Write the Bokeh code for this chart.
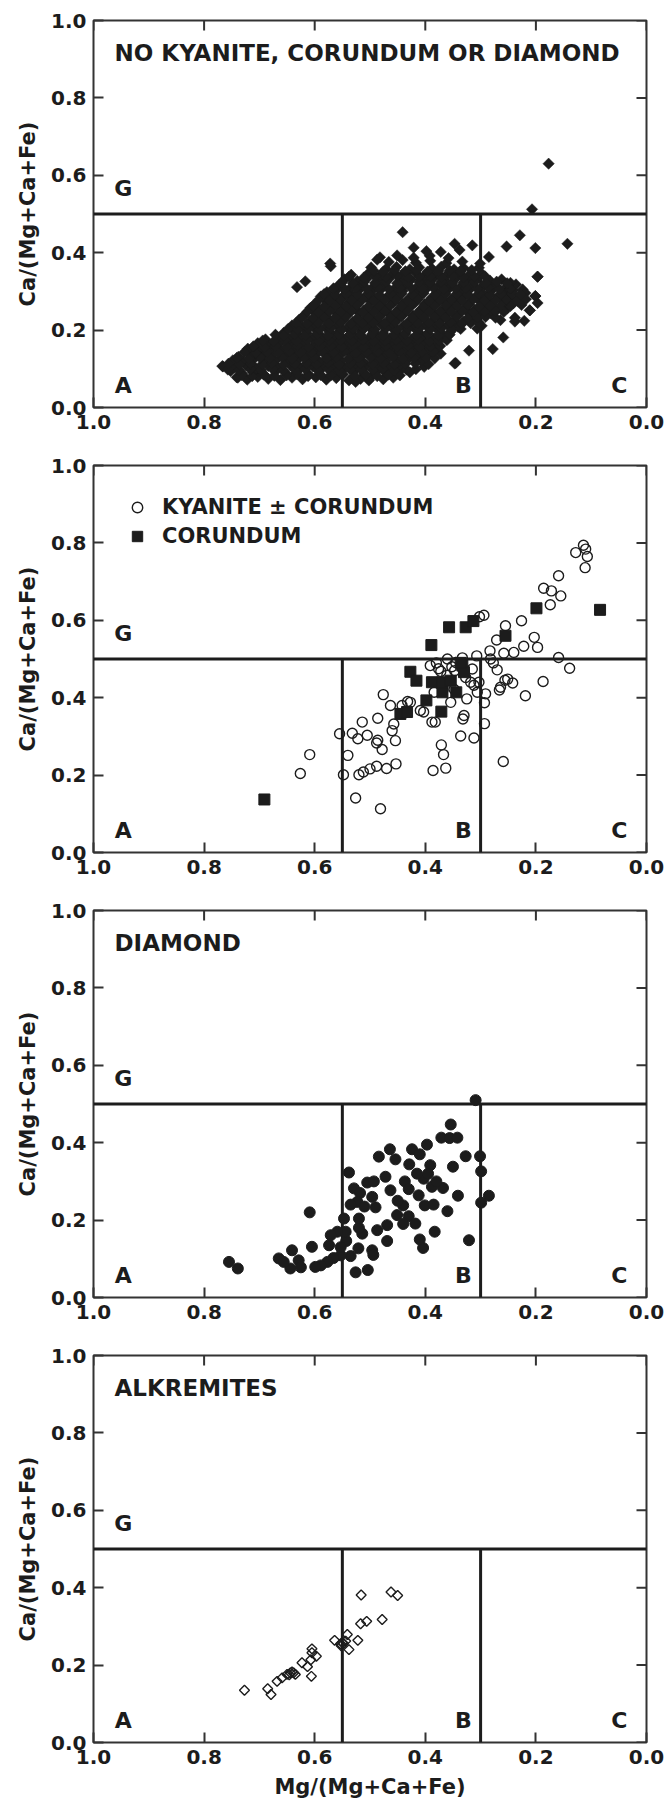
import math
from bokeh.plotting import figure
from bokeh.layouts import column
from bokeh.models import (Range1d, FixedTicker, Legend, LegendItem,
                          Span, PrintfTickFormatter)
from bokeh.core.properties import value
from bokeh.embed import file_html
from bokeh.resources import INLINE

# ---------------- data ----------------
tick_values = [0.0, 0.2, 0.4, 0.6, 0.8, 1.0]
tick_labels = ["0.0", "0.2", "0.4", "0.6", "0.8", "1.0"]

g_boundary = 0.5          # Ca/(Mg+Ca+Fe) boundary of group G
ab_boundary = 0.55        # Mg/(Mg+Ca+Fe) boundary A | B
bc_boundary = 0.30        # Mg/(Mg+Ca+Fe) boundary B | C

region_names = ["A", "B", "C", "G"]
region_mg = [0.946, 0.331, 0.049, 0.946]
region_ca = [0.056, 0.056, 0.056, 0.566]

panel_titles = ["NO KYANITE, CORUNDUM OR DIAMOND", None, "DIAMOND", "ALKREMITES"]
x_title = "Mg/(Mg+Ca+Fe)"
y_title = "Ca/(Mg+Ca+Fe)"
legend_labels = ["KYANITE \u00b1 CORUNDUM", "CORUNDUM"]

# Panel 1: no kyanite, corundum or diamond (filled diamonds)
p1_mg = [
    0.741, 0.722, 0.703, 0.684, 0.662, 0.641, 0.622, 0.598, 0.579, 0.561, 0.538, 0.517, 0.498, 0.476, 0.458,
    0.752, 0.731, 0.712, 0.693, 0.671, 0.652, 0.633, 0.611, 0.592, 0.569, 0.551, 0.529, 0.511, 0.489, 0.471, 0.449, 0.428,
    0.766, 0.746, 0.724, 0.706, 0.684, 0.667, 0.644, 0.626, 0.603, 0.586, 0.564, 0.546, 0.523, 0.506, 0.484, 0.466, 0.441, 0.402, 0.347,
    0.748, 0.729, 0.711, 0.688, 0.671, 0.648, 0.631, 0.609, 0.591, 0.568, 0.552, 0.529, 0.512, 0.488, 0.471, 0.449, 0.432, 0.408, 0.372,
    0.738, 0.716, 0.694, 0.676, 0.654, 0.636, 0.613, 0.596, 0.574, 0.556, 0.533, 0.516, 0.494, 0.476, 0.453, 0.436, 0.414, 0.396, 0.321,
    0.721, 0.701, 0.679, 0.661, 0.639, 0.621, 0.598, 0.581, 0.559, 0.541, 0.518, 0.501, 0.479, 0.461, 0.438, 0.421, 0.398, 0.381, 0.345, 0.278,
    0.703, 0.682, 0.663, 0.641, 0.622, 0.601, 0.583, 0.561, 0.542, 0.521, 0.503, 0.481, 0.462, 0.442, 0.423, 0.401, 0.384,
    0.689, 0.667, 0.646, 0.626, 0.604, 0.586, 0.566, 0.544, 0.526, 0.504, 0.486, 0.464, 0.446, 0.424, 0.406, 0.384, 0.366, 0.259,
    0.656, 0.637, 0.614, 0.596, 0.573, 0.556, 0.533, 0.516, 0.493, 0.476, 0.453, 0.436, 0.413, 0.396, 0.374, 0.356,
    0.641, 0.622, 0.601, 0.581, 0.559, 0.541, 0.519, 0.502, 0.479, 0.461, 0.439, 0.421, 0.399, 0.381, 0.359, 0.341, 0.298, 0.238,
    0.628, 0.609, 0.588, 0.571, 0.548, 0.531, 0.508, 0.491, 0.468, 0.451, 0.428, 0.411, 0.388, 0.371, 0.348, 0.331, 0.309, 0.264, 0.221,
    0.619, 0.598, 0.581, 0.559, 0.542, 0.519, 0.502, 0.479, 0.462, 0.439, 0.422, 0.399, 0.382, 0.359, 0.342, 0.319, 0.302, 0.281,
    0.608, 0.591, 0.568, 0.551, 0.528, 0.511, 0.488, 0.471, 0.448, 0.431, 0.408, 0.391, 0.368, 0.351, 0.328, 0.311, 0.288, 0.271, 0.252, 0.211,
    0.599, 0.578, 0.561, 0.538, 0.521, 0.498, 0.481, 0.458, 0.441, 0.418, 0.401, 0.378, 0.361, 0.338, 0.321, 0.298, 0.281, 0.258, 0.241, 0.197,
    0.589, 0.571, 0.548, 0.531, 0.508, 0.491, 0.468, 0.451, 0.428, 0.411, 0.388, 0.371, 0.348, 0.331, 0.308, 0.291, 0.268, 0.251, 0.228, 0.201,
    0.578, 0.561, 0.538, 0.521, 0.498, 0.481, 0.458, 0.441, 0.418, 0.401, 0.378, 0.361, 0.338, 0.321, 0.298, 0.281, 0.258, 0.241,
    0.632, 0.556, 0.533, 0.516, 0.493, 0.476, 0.453, 0.436, 0.413, 0.396, 0.373, 0.356, 0.333, 0.316, 0.293, 0.276, 0.253, 0.236,
    0.617, 0.546, 0.523, 0.506, 0.483, 0.466, 0.443, 0.426, 0.403, 0.386, 0.363, 0.346, 0.323, 0.306, 0.283, 0.262, 0.197,
    0.534, 0.502, 0.481, 0.458, 0.441, 0.418, 0.401, 0.378, 0.361, 0.338, 0.321, 0.298,
    0.571, 0.498, 0.471, 0.452, 0.428, 0.411, 0.388, 0.371, 0.348, 0.331, 0.303,
    0.572, 0.487, 0.466, 0.441, 0.417, 0.391, 0.362, 0.333, 0.301,
    0.482, 0.451, 0.421, 0.392, 0.358, 0.285,
    0.421, 0.398, 0.372, 0.338,
    0.441, 0.229, 0.207, 0.177, 0.143, 0.253, 0.201, 0.315, 0.347, 0.197, 0.201, 0.211, 0.238, 0.767, 0.739, 0.526, 0.502,
    0.224, 0.219, 0.246, 0.232,
    0.732, 0.713, 0.692, 0.673, 0.651, 0.632, 0.612, 0.589, 0.571, 0.549, 0.528, 0.507, 0.487, 0.467, 0.446,
    0.757, 0.737, 0.716, 0.697, 0.676, 0.657, 0.636, 0.617, 0.595, 0.576, 0.556, 0.536, 0.516, 0.495, 0.477, 0.456, 0.434, 0.417,
    0.756, 0.736, 0.716, 0.695, 0.677, 0.656, 0.636, 0.615, 0.597, 0.576, 0.556, 0.536, 0.517, 0.496, 0.476, 0.456, 0.436, 0.418, 0.394,
    0.741, 0.719, 0.699, 0.681, 0.659, 0.641, 0.619, 0.601, 0.579, 0.561, 0.539, 0.521, 0.499, 0.481, 0.459, 0.441, 0.421, 0.399, 0.383,
    0.727, 0.706, 0.686, 0.666, 0.646, 0.626, 0.606, 0.586, 0.566, 0.546, 0.526, 0.506, 0.486, 0.466, 0.446, 0.426, 0.406, 0.386,
    0.711, 0.691, 0.671, 0.651, 0.631, 0.611, 0.591, 0.571, 0.551, 0.531, 0.511, 0.491, 0.471, 0.451, 0.431, 0.411, 0.391, 0.373,
    0.694, 0.674, 0.654, 0.633, 0.613, 0.593, 0.573, 0.553, 0.533, 0.513, 0.493, 0.473, 0.453, 0.433, 0.413, 0.393, 0.375, 0.361,
    0.671, 0.656, 0.636, 0.616, 0.596, 0.576, 0.556, 0.536, 0.516, 0.496, 0.476, 0.456, 0.436, 0.416, 0.396, 0.376, 0.356,
    0.648, 0.631, 0.611, 0.591, 0.571, 0.551, 0.531, 0.511, 0.491, 0.471, 0.451, 0.431, 0.411, 0.391, 0.371, 0.351, 0.336, 0.306,
    0.634, 0.614, 0.594, 0.574, 0.554, 0.534, 0.514, 0.494, 0.474, 0.454, 0.434, 0.414, 0.394, 0.374, 0.354, 0.334, 0.318, 0.303,
    0.623, 0.603, 0.583, 0.563, 0.543, 0.523, 0.503, 0.483, 0.463, 0.443, 0.423, 0.403, 0.383, 0.363, 0.343, 0.323, 0.306, 0.291, 0.273,
    0.613, 0.593, 0.573, 0.553, 0.533, 0.513, 0.493, 0.473, 0.453, 0.433, 0.413, 0.393, 0.373, 0.353, 0.333, 0.313, 0.293, 0.273, 0.258,
    0.603, 0.583, 0.563, 0.543, 0.523, 0.503, 0.483, 0.463, 0.443, 0.423, 0.403, 0.383, 0.363, 0.343, 0.323, 0.303, 0.283, 0.263, 0.246, 0.226,
    0.593, 0.573, 0.553, 0.533, 0.513, 0.493, 0.473, 0.453, 0.433, 0.413, 0.393, 0.373, 0.353, 0.333, 0.313, 0.293, 0.273, 0.253, 0.236, 0.218,
    0.583, 0.563, 0.543, 0.523, 0.503, 0.483, 0.463, 0.443, 0.423, 0.403, 0.383, 0.363, 0.343, 0.323, 0.303, 0.283, 0.263, 0.243, 0.228,
    0.566, 0.546, 0.526, 0.506, 0.486, 0.466, 0.446, 0.426, 0.406, 0.386, 0.366, 0.346, 0.326, 0.306, 0.286, 0.266, 0.246,
    0.551, 0.531, 0.511, 0.491, 0.471, 0.451, 0.431, 0.411, 0.391, 0.371, 0.351, 0.331, 0.311, 0.291, 0.271, 0.252,
    0.538, 0.511, 0.491, 0.471, 0.451, 0.431, 0.411, 0.391, 0.371, 0.351, 0.331, 0.311, 0.292,
    0.493, 0.476, 0.456, 0.436, 0.416, 0.396, 0.376, 0.356, 0.336, 0.316,
]
p1_ca = [
    0.078, 0.072, 0.079, 0.074, 0.071, 0.077, 0.073, 0.078, 0.072, 0.076, 0.070, 0.074, 0.079, 0.073, 0.077,
    0.094, 0.088, 0.092, 0.087, 0.093, 0.089, 0.091, 0.086, 0.094, 0.090, 0.087, 0.093, 0.088, 0.092, 0.089, 0.094, 0.091,
    0.106, 0.103, 0.108, 0.101, 0.107, 0.104, 0.109, 0.102, 0.106, 0.104, 0.108, 0.101, 0.105, 0.109, 0.103, 0.107, 0.102, 0.105, 0.114,
    0.122, 0.118, 0.124, 0.119, 0.121, 0.117, 0.123, 0.120, 0.118, 0.124, 0.119, 0.122, 0.117, 0.123, 0.120, 0.118, 0.124, 0.121, 0.139,
    0.131, 0.137, 0.133, 0.138, 0.132, 0.136, 0.134, 0.139, 0.131, 0.135, 0.138, 0.132, 0.136, 0.133, 0.139, 0.134, 0.137, 0.132, 0.147,
    0.152, 0.148, 0.153, 0.147, 0.151, 0.149, 0.154, 0.146, 0.152, 0.148, 0.153, 0.147, 0.150, 0.154, 0.148, 0.152, 0.146, 0.151, 0.115, 0.151,
    0.166, 0.162, 0.168, 0.163, 0.167, 0.161, 0.166, 0.169, 0.162, 0.167, 0.163, 0.168, 0.161, 0.166, 0.164, 0.168, 0.163,
    0.176, 0.182, 0.178, 0.183, 0.177, 0.181, 0.184, 0.178, 0.182, 0.176, 0.183, 0.179, 0.181, 0.177, 0.184, 0.179, 0.182, 0.181,
    0.193, 0.197, 0.192, 0.198, 0.194, 0.196, 0.191, 0.197, 0.195, 0.192, 0.198, 0.193, 0.196, 0.191, 0.197, 0.194,
    0.212, 0.207, 0.213, 0.208, 0.211, 0.206, 0.212, 0.209, 0.214, 0.207, 0.211, 0.208, 0.213, 0.206, 0.212, 0.209, 0.211, 0.222,
    0.227, 0.222, 0.228, 0.223, 0.226, 0.221, 0.227, 0.224, 0.222, 0.228, 0.223, 0.226, 0.221, 0.227, 0.224, 0.222, 0.228, 0.226, 0.224,
    0.238, 0.243, 0.237, 0.242, 0.239, 0.244, 0.236, 0.241, 0.238, 0.243, 0.237, 0.242, 0.239, 0.244, 0.237, 0.241, 0.238, 0.243,
    0.257, 0.252, 0.258, 0.253, 0.256, 0.251, 0.257, 0.254, 0.252, 0.258, 0.253, 0.256, 0.251, 0.257, 0.254, 0.252, 0.258, 0.253, 0.256, 0.251,
    0.268, 0.273, 0.267, 0.272, 0.269, 0.274, 0.266, 0.271, 0.268, 0.273, 0.267, 0.272, 0.269, 0.274, 0.267, 0.271, 0.268, 0.273, 0.269, 0.270,
    0.287, 0.282, 0.288, 0.283, 0.286, 0.281, 0.287, 0.284, 0.282, 0.288, 0.283, 0.286, 0.281, 0.287, 0.284, 0.282, 0.288, 0.283, 0.286, 0.288,
    0.298, 0.303, 0.297, 0.302, 0.299, 0.304, 0.296, 0.301, 0.298, 0.303, 0.297, 0.302, 0.299, 0.304, 0.297, 0.301, 0.298, 0.303,
    0.311, 0.317, 0.312, 0.318, 0.313, 0.316, 0.311, 0.317, 0.314, 0.312, 0.318, 0.313, 0.316, 0.311, 0.317, 0.314, 0.312, 0.318,
    0.326, 0.331, 0.327, 0.333, 0.328, 0.332, 0.326, 0.331, 0.328, 0.333, 0.327, 0.332, 0.329, 0.334, 0.328, 0.331, 0.338,
    0.343, 0.348, 0.342, 0.347, 0.344, 0.349, 0.342, 0.346, 0.343, 0.348, 0.342, 0.346,
    0.365, 0.362, 0.358, 0.363, 0.357, 0.362, 0.359, 0.364, 0.357, 0.361, 0.361,
    0.372, 0.382, 0.376, 0.381, 0.374, 0.379, 0.373, 0.377, 0.372,
    0.388, 0.393, 0.387, 0.392, 0.386, 0.389,
    0.413, 0.404, 0.402, 0.407,
    0.453, 0.445, 0.512, 0.630, 0.423, 0.416, 0.412, 0.419, 0.423, 0.338, 0.288, 0.251, 0.232, 0.107, 0.077, 0.066, 0.070,
    0.305, 0.296, 0.322, 0.274,
    0.084, 0.081, 0.085, 0.082, 0.083, 0.086, 0.081, 0.084, 0.083, 0.085, 0.082, 0.084, 0.081, 0.085, 0.083,
    0.098, 0.096, 0.099, 0.097, 0.100, 0.096, 0.098, 0.099, 0.097, 0.100, 0.096, 0.098, 0.099, 0.097, 0.100, 0.096, 0.098, 0.099,
    0.113, 0.111, 0.114, 0.112, 0.115, 0.111, 0.113, 0.114, 0.112, 0.115, 0.111, 0.113, 0.114, 0.112, 0.115, 0.111, 0.113, 0.114, 0.112,
    0.128, 0.126, 0.129, 0.127, 0.130, 0.126, 0.128, 0.129, 0.127, 0.130, 0.126, 0.128, 0.129, 0.127, 0.130, 0.126, 0.128, 0.129, 0.127,
    0.143, 0.141, 0.144, 0.142, 0.145, 0.141, 0.143, 0.144, 0.142, 0.145, 0.141, 0.143, 0.144, 0.142, 0.145, 0.141, 0.143, 0.144,
    0.158, 0.156, 0.159, 0.157, 0.160, 0.156, 0.158, 0.159, 0.157, 0.160, 0.156, 0.158, 0.159, 0.157, 0.160, 0.156, 0.158, 0.159,
    0.173, 0.171, 0.174, 0.172, 0.175, 0.171, 0.173, 0.174, 0.172, 0.175, 0.171, 0.173, 0.174, 0.172, 0.175, 0.171, 0.173, 0.174,
    0.188, 0.186, 0.189, 0.187, 0.190, 0.186, 0.188, 0.189, 0.187, 0.190, 0.186, 0.188, 0.189, 0.187, 0.190, 0.186, 0.188,
    0.203, 0.201, 0.204, 0.202, 0.205, 0.201, 0.203, 0.204, 0.202, 0.205, 0.201, 0.203, 0.204, 0.202, 0.205, 0.201, 0.203, 0.204,
    0.218, 0.216, 0.219, 0.217, 0.220, 0.216, 0.218, 0.219, 0.217, 0.220, 0.216, 0.218, 0.219, 0.217, 0.220, 0.216, 0.218, 0.219,
    0.233, 0.231, 0.234, 0.232, 0.235, 0.231, 0.233, 0.234, 0.232, 0.235, 0.231, 0.233, 0.234, 0.232, 0.235, 0.231, 0.233, 0.234, 0.232,
    0.248, 0.246, 0.249, 0.247, 0.250, 0.246, 0.248, 0.249, 0.247, 0.250, 0.246, 0.248, 0.249, 0.247, 0.250, 0.246, 0.248, 0.249, 0.247,
    0.263, 0.261, 0.264, 0.262, 0.265, 0.261, 0.263, 0.264, 0.262, 0.265, 0.261, 0.263, 0.264, 0.262, 0.265, 0.261, 0.263, 0.264, 0.262, 0.265,
    0.278, 0.276, 0.279, 0.277, 0.280, 0.276, 0.278, 0.279, 0.277, 0.280, 0.276, 0.278, 0.279, 0.277, 0.280, 0.276, 0.278, 0.279, 0.277, 0.280,
    0.293, 0.291, 0.294, 0.292, 0.295, 0.291, 0.293, 0.294, 0.292, 0.295, 0.291, 0.293, 0.294, 0.292, 0.295, 0.291, 0.293, 0.294, 0.292,
    0.308, 0.306, 0.309, 0.307, 0.310, 0.306, 0.308, 0.309, 0.307, 0.310, 0.306, 0.308, 0.309, 0.307, 0.310, 0.306, 0.308,
    0.323, 0.321, 0.324, 0.322, 0.325, 0.321, 0.323, 0.324, 0.322, 0.325, 0.321, 0.323, 0.324, 0.322, 0.325, 0.321,
    0.338, 0.336, 0.339, 0.337, 0.340, 0.336, 0.338, 0.339, 0.337, 0.340, 0.336, 0.338, 0.339,
    0.353, 0.351, 0.354, 0.352, 0.355, 0.351, 0.353, 0.354, 0.352, 0.355,
]

# Panel 2: kyanite +/- corundum (open circles) and corundum (filled squares)
kya_mg = [0.626, 0.609, 0.555, 0.540, 0.548, 0.526, 0.481, 0.532, 0.522, 0.505,
          0.514, 0.488, 0.478, 0.486, 0.486, 0.476, 0.463, 0.457, 0.460, 0.454,
          0.442, 0.427, 0.409, 0.403, 0.520, 0.512, 0.500, 0.488, 0.470, 0.453,
          0.386, 0.363, 0.371, 0.367, 0.382, 0.336, 0.312, 0.330, 0.332, 0.293,
          0.293, 0.291, 0.306, 0.325, 0.354, 0.391, 0.376, 0.360, 0.345, 0.315,
          0.307, 0.318, 0.303, 0.283, 0.282, 0.277, 0.270, 0.264, 0.251, 0.242,
          0.219, 0.187, 0.159, 0.139, 0.258, 0.240, 0.222, 0.203, 0.197, 0.271,
          0.255, 0.226, 0.294, 0.302, 0.186, 0.172, 0.155, 0.174, 0.159, 0.111,
          0.128, 0.114, 0.110, 0.107, 0.259, 0.388, 0.372, 0.361, 0.347, 0.327,
          0.312, 0.348, 0.368, 0.384, 0.380, 0.352, 0.333, 0.266, 0.256, 0.432]
kya_ca = [0.204, 0.253, 0.307, 0.251, 0.201, 0.141, 0.113, 0.308, 0.294, 0.303,
          0.337, 0.283, 0.266, 0.290, 0.347, 0.408, 0.380, 0.332, 0.315, 0.289,
          0.380, 0.388, 0.367, 0.363, 0.201, 0.208, 0.216, 0.223, 0.217, 0.229,
          0.212, 0.218, 0.278, 0.253, 0.337, 0.301, 0.296, 0.354, 0.345, 0.333,
          0.387, 0.410, 0.414, 0.397, 0.388, 0.483, 0.475, 0.500, 0.491, 0.474,
          0.508, 0.440, 0.440, 0.521, 0.500, 0.490, 0.472, 0.427, 0.448, 0.438,
          0.405, 0.442, 0.504, 0.476, 0.515, 0.517, 0.533, 0.556, 0.530, 0.549,
          0.586, 0.599, 0.613, 0.609, 0.683, 0.676, 0.663, 0.640, 0.715, 0.736,
          0.775, 0.794, 0.784, 0.765, 0.235, 0.337, 0.468, 0.458, 0.470, 0.452,
          0.432, 0.422, 0.420, 0.414, 0.490, 0.480, 0.503, 0.420, 0.445, 0.390]
cor_mg = [0.691, 0.389, 0.357, 0.327, 0.313, 0.199, 0.084, 0.255, 0.427, 0.416, 0.398,
          0.445, 0.433, 0.371, 0.388, 0.369, 0.369, 0.354, 0.344, 0.333, 0.330, 0.336]
cor_ca = [0.137, 0.536, 0.582, 0.582, 0.598, 0.631, 0.627, 0.560, 0.467, 0.444, 0.393,
          0.358, 0.363, 0.364, 0.440, 0.414, 0.440, 0.444, 0.414, 0.483, 0.466, 0.490]

# Panel 3: diamond (filled circles)
dia_mg = [0.309, 0.354, 0.371, 0.356, 0.342, 0.397, 0.424, 0.464, 0.484, 0.454,
          0.410, 0.429, 0.391, 0.350, 0.327, 0.301, 0.299, 0.285, 0.299, 0.341,
          0.321, 0.360, 0.383, 0.404, 0.410, 0.401, 0.385, 0.388, 0.412, 0.403,
          0.415, 0.368, 0.440, 0.451, 0.430, 0.418, 0.469, 0.469, 0.487, 0.496,
          0.494, 0.504, 0.526, 0.521, 0.535, 0.543, 0.514, 0.520, 0.538, 0.529,
          0.518, 0.505, 0.493, 0.472, 0.463, 0.496, 0.523, 0.535, 0.510, 0.490,
          0.520, 0.547, 0.544, 0.559, 0.571, 0.553, 0.566, 0.574, 0.577, 0.589,
          0.599, 0.605, 0.609, 0.629, 0.641, 0.644, 0.625, 0.665, 0.656, 0.739,
          0.755, 0.553, 0.440, 0.437, 0.380, 0.395, 0.430, 0.450]
dia_ca = [0.510, 0.447, 0.413, 0.412, 0.413, 0.395, 0.383, 0.383, 0.364, 0.357,
          0.370, 0.344, 0.342, 0.338, 0.365, 0.365, 0.326, 0.263, 0.245, 0.263,
          0.148, 0.223, 0.170, 0.128, 0.150, 0.238, 0.240, 0.286, 0.264, 0.307,
          0.320, 0.283, 0.238, 0.213, 0.210, 0.191, 0.187, 0.146, 0.174, 0.122,
          0.110, 0.071, 0.065, 0.127, 0.107, 0.146, 0.165, 0.180, 0.323, 0.282,
          0.270, 0.297, 0.300, 0.312, 0.277, 0.260, 0.247, 0.240, 0.235, 0.233,
          0.204, 0.204, 0.170, 0.170, 0.161, 0.109, 0.102, 0.135, 0.092, 0.083,
          0.079, 0.131, 0.220, 0.096, 0.122, 0.075, 0.078, 0.101, 0.092, 0.075,
          0.092, 0.130, 0.190, 0.300, 0.300, 0.320, 0.280, 0.250]

# Panel 4: alkremites (open diamonds)
alk_mg = [0.727, 0.685, 0.679, 0.668, 0.659, 0.650, 0.644, 0.638, 0.623, 0.613,
          0.606, 0.605, 0.605, 0.597, 0.607, 0.564, 0.550, 0.544, 0.541, 0.538,
          0.522, 0.517, 0.506, 0.516, 0.478, 0.462, 0.450, 0.646, 0.641, 0.553,
          0.552, 0.548, 0.635]
alk_ca = [0.135, 0.139, 0.124, 0.158, 0.167, 0.176, 0.180, 0.180, 0.206, 0.196,
          0.171, 0.242, 0.232, 0.223, 0.214, 0.264, 0.258, 0.262, 0.279, 0.240,
          0.264, 0.307, 0.313, 0.381, 0.318, 0.389, 0.380, 0.175, 0.182, 0.255,
          0.250, 0.256, 0.176]

# ---------------- style ----------------
FONT = "DejaVu Sans"
INK = "#1c1c1c"
FRAME = "#333333"
ROT = math.pi / 4


def style_axis(ax):
    ax.ticker = FixedTicker(ticks=tick_values)
    ax.formatter = PrintfTickFormatter(format="%.1f")
    ax.major_label_overrides = dict(zip(tick_values, tick_labels))
    ax.major_tick_in = 10
    ax.major_tick_out = 0
    ax.minor_tick_line_color = None
    ax.axis_line_color = None
    ax.major_tick_line_color = FRAME
    ax.major_tick_line_width = 2
    ax.major_label_text_font = FONT
    ax.major_label_text_font_style = "bold"
    ax.major_label_text_color = INK
    ax.major_label_text_font_size = "20px"
    ax.major_label_standoff = 7
    ax.axis_label_text_font = FONT
    ax.axis_label_text_font_style = "bold"
    ax.axis_label_text_font_size = "21px"
    ax.axis_label_text_color = INK
    ax.axis_label_standoff = 8


def make_panel(title, height, bottom, show_xtitle):
    p = figure(width=671, height=height,
               x_range=Range1d(1.0, 0.0), y_range=Range1d(0.0, 1.0),
               output_backend="svg", toolbar_location=None, tools="",
               min_border_left=93, min_border_right=25,
               min_border_top=20, min_border_bottom=bottom)
    p.grid.visible = False
    p.outline_line_color = FRAME
    p.outline_line_width = 2
    p.background_fill_color = "white"
    p.border_fill_color = "white"
    style_axis(p.xaxis[0])
    style_axis(p.yaxis[0])
    p.yaxis[0].axis_label = y_title
    if show_xtitle:
        p.xaxis[0].axis_label = x_title

    # inward ticks on the top and right frame edges (outer half clipped by frame)
    n = len(tick_values)
    p.scatter(x=tick_values, y=[p.y_range.end] * n, marker="dash", size=20,
              angle=math.pi / 2, line_color=FRAME, line_width=2)
    p.scatter(x=[p.x_range.end] * n, y=tick_values, marker="dash", size=20,
              line_color=FRAME, line_width=2)

    # field boundaries
    p.add_layout(Span(location=g_boundary, dimension="width",
                      line_color=INK, line_width=3))
    p.segment(x0=[ab_boundary, bc_boundary], y0=[0.0, 0.0],
              x1=[ab_boundary, bc_boundary], y1=[g_boundary, g_boundary],
              line_color=INK, line_width=3)
    # field names
    p.text(x=region_mg, y=region_ca, text=region_names,
           text_align="center", text_baseline="middle",
           text_font=value(FONT), text_font_style="bold",
           text_font_size="22px", text_color=INK)
    if title:
        p.text(x=[0.962], y=[0.915], text=[title],
               text_align="left", text_baseline="middle",
               text_font=value(FONT), text_font_style="bold",
               text_font_size="23px", text_color=INK)
    return p


# Panel 1
p1 = make_panel(panel_titles[0], 445, 38, False)
p1.scatter(x=p1_mg, y=p1_ca, marker="square", size=8, angle=ROT,
           fill_color=INK, line_color=INK, line_width=0.5)

# Panel 2
p2 = make_panel(panel_titles[1], 445, 38, False)
r_kya = p2.scatter(x=kya_mg, y=kya_ca, marker="circle", size=10,
                   fill_color=None, line_color=INK, line_width=1.4)
r_cor = p2.scatter(x=cor_mg, y=cor_ca, marker="square", size=11,
                   fill_color=INK, line_color=INK)
legend = Legend(items=[LegendItem(label=legend_labels[0], renderers=[r_kya]),
                       LegendItem(label=legend_labels[1], renderers=[r_cor])],
                location="top_left", margin=29, padding=0,
                glyph_width=30, glyph_height=26, label_height=26,
                label_standoff=10, spacing=3,
                label_text_font=FONT, label_text_font_style="bold",
                label_text_font_size="21px", label_text_color=INK,
                border_line_color=None, background_fill_alpha=0)
p2.add_layout(legend)

# Panel 3
p3 = make_panel(panel_titles[2], 445, 38, False)
p3.scatter(x=dia_mg, y=dia_ca, marker="circle", size=11,
           fill_color=INK, line_color=INK)

# Panel 4
p4 = make_panel(panel_titles[3], 472, 65, True)
p4.scatter(x=alk_mg, y=alk_ca, marker="square", size=7, angle=ROT,
           fill_color="white", fill_alpha=0.0, line_color=INK, line_width=1.4)

layout = column(p1, p2, p3, p4, spacing=0)
open("out.html", "w").write(file_html(layout, INLINE))
